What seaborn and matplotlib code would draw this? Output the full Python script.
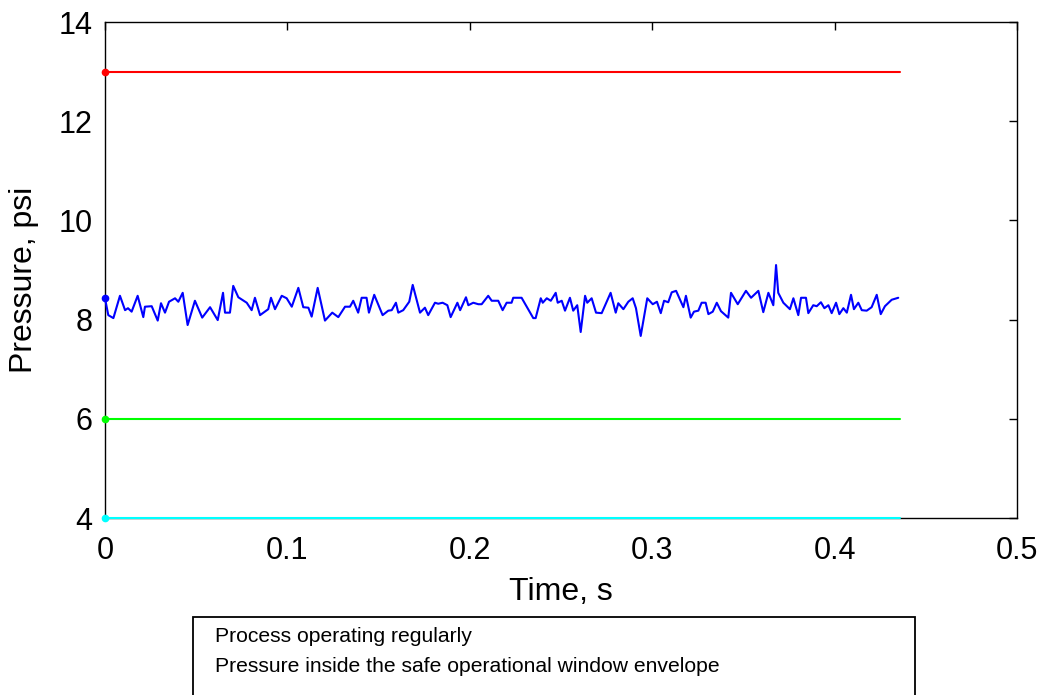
import matplotlib
matplotlib.use("Agg")
import matplotlib.pyplot as plt
import matplotlib.patches as mpatches
import seaborn as sns
import pandas as pd

# ---- data ----
time_s = [0.0000, 0.0018, 0.0046, 0.0082, 0.0110, 0.0126, 0.0146, 0.0179, 0.0210, 0.0219,
          0.0256, 0.0289, 0.0307, 0.0329, 0.0351, 0.0384, 0.0402, 0.0426, 0.0453, 0.0493,
          0.0533, 0.0576, 0.0618, 0.0647, 0.0658, 0.0685, 0.0703, 0.0731, 0.0777, 0.0804,
          0.0822, 0.0850, 0.0895, 0.0910, 0.0932, 0.0969, 0.0996, 0.1024, 0.1060, 0.1087,
          0.1115, 0.1133, 0.1166, 0.1206, 0.1246, 0.1279, 0.1316, 0.1343, 0.1361, 0.1388,
          0.1407, 0.1434, 0.1447, 0.1476, 0.1522, 0.1553, 0.1572, 0.1595, 0.1608, 0.1635,
          0.1668, 0.1687, 0.1727, 0.1754, 0.1772, 0.1809, 0.1827, 0.1851, 0.1877, 0.1895,
          0.1932, 0.1947, 0.1979, 0.1992, 0.2019, 0.2047, 0.2065, 0.2101, 0.2120, 0.2156,
          0.2180, 0.2202, 0.2229, 0.2238, 0.2284, 0.2312, 0.2348, 0.2361, 0.2389, 0.2400,
          0.2422, 0.2444, 0.2471, 0.2482, 0.2504, 0.2522, 0.2549, 0.2567, 0.2589, 0.2608,
          0.2632, 0.2644, 0.2668, 0.2692, 0.2723, 0.2772, 0.2800, 0.2814, 0.2842, 0.2869,
          0.2893, 0.2911, 0.2937, 0.2973, 0.3003, 0.3026, 0.3047, 0.3065, 0.3088, 0.3107,
          0.3131, 0.3171, 0.3185, 0.3211, 0.3229, 0.3253, 0.3271, 0.3293, 0.3308, 0.3332,
          0.3354, 0.3377, 0.3417, 0.3432, 0.3469, 0.3514, 0.3542, 0.3582, 0.3609, 0.3637,
          0.3664, 0.3679, 0.3691, 0.3719, 0.3755, 0.3774, 0.3801, 0.3816, 0.3843, 0.3856,
          0.3883, 0.3902, 0.3925, 0.3944, 0.3966, 0.3984, 0.4008, 0.4026, 0.4048, 0.4067,
          0.4090, 0.4106, 0.4130, 0.4149, 0.4176, 0.4203, 0.4231, 0.4253, 0.4276, 0.4313,
          0.4349]
pressure_psi = [8.43, 8.09, 8.03, 8.48, 8.19, 8.23, 8.16, 8.48, 8.05, 8.26,
                8.27, 7.98, 8.33, 8.14, 8.36, 8.43, 8.36, 8.54, 7.89, 8.38,
                8.04, 8.25, 7.99, 8.54, 8.14, 8.14, 8.68, 8.45, 8.34, 8.19,
                8.44, 8.09, 8.21, 8.44, 8.21, 8.48, 8.43, 8.26, 8.64, 8.25,
                8.24, 8.06, 8.64, 7.98, 8.14, 8.05, 8.26, 8.26, 8.38, 8.14,
                8.44, 8.44, 8.14, 8.50, 8.09, 8.18, 8.19, 8.34, 8.14, 8.19,
                8.36, 8.70, 8.14, 8.24, 8.09, 8.34, 8.32, 8.34, 8.29, 8.05,
                8.34, 8.19, 8.45, 8.29, 8.34, 8.31, 8.31, 8.48, 8.38, 8.38,
                8.19, 8.34, 8.34, 8.44, 8.44, 8.26, 8.03, 8.03, 8.43, 8.34,
                8.43, 8.38, 8.54, 8.34, 8.38, 8.18, 8.44, 8.18, 8.29, 7.75,
                8.48, 8.34, 8.43, 8.14, 8.13, 8.54, 8.14, 8.33, 8.21, 8.36,
                8.43, 8.23, 7.67, 8.43, 8.31, 8.36, 8.13, 8.38, 8.35, 8.55,
                8.58, 8.25, 8.48, 8.04, 8.16, 8.18, 8.34, 8.34, 8.11, 8.16,
                8.34, 8.17, 8.04, 8.54, 8.31, 8.58, 8.44, 8.58, 8.15, 8.54,
                8.29, 9.10, 8.54, 8.34, 8.21, 8.43, 8.09, 8.44, 8.44, 8.13,
                8.29, 8.27, 8.35, 8.23, 8.29, 8.13, 8.34, 8.11, 8.23, 8.14,
                8.50, 8.21, 8.34, 8.19, 8.18, 8.25, 8.50, 8.11, 8.27, 8.40,
                8.44]
limit_time = [0.0, 0.436]
upper_limit = [13.0, 13.0]
lower_limit = [6.0, 6.0]
floor_limit = [4.0, 4.0]

x_ticks = [0, 0.1, 0.2, 0.3, 0.4, 0.5]
x_tick_labels = ["0", "0.1", "0.2", "0.3", "0.4", "0.5"]
y_ticks = [4, 6, 8, 10, 12, 14]
y_tick_labels = ["4", "6", "8", "10", "12", "14"]
status_lines = ["Process operating regularly",
                "Pressure inside the safe operational window envelope"]

# ---- style ----
sns.set_theme(style="white")
plt.rcParams["font.family"] = ["Liberation Sans", "DejaVu Sans"]

fig = plt.figure(figsize=(10.44, 6.95), dpi=100)
ax = fig.add_axes([105 / 1044, 1 - 518 / 695, (1017 - 105) / 1044, (518 - 22) / 695])

series = [
    (limit_time, upper_limit, "#ff0000"),
    (limit_time, lower_limit, "#00ff00"),
    (limit_time, floor_limit, "#00ffff"),
    (time_s, pressure_psi, "#0000ff"),
]
for xs, ys, col in series:
    df = pd.DataFrame({"t": xs, "p": ys})
    sns.lineplot(data=df, x="t", y="p", ax=ax, color=col, linewidth=1.5,
                 estimator=None, sort=False, clip_on=False, zorder=4)
    ax.plot(xs[0], ys[0], "o", color=col, markersize=4.5, clip_on=False, zorder=5)

ax.set_xlim(0, 0.5)
ax.set_ylim(4, 14)
ax.set_xticks(x_ticks)
ax.set_xticklabels(x_tick_labels)
ax.set_yticks(y_ticks)
ax.set_yticklabels(y_tick_labels)
ax.tick_params(direction="in", top=True, right=True, length=6, width=1,
               labelsize=22, colors="black")
ax.tick_params(axis="x", pad=13)
ax.tick_params(axis="y", pad=9)
for sp in ax.spines.values():
    sp.set_visible(True)
    sp.set_color("black")
    sp.set_linewidth(1.0)
ax.set_xlabel("Time, s", fontsize=23, labelpad=8, color="black")
ax.set_ylabel("Pressure, psi", fontsize=23, color="black")
ax.yaxis.set_label_coords(-0.072, 0.48)
ax.grid(False)

# status box below the axes
rect = mpatches.Rectangle((193 / 1044, -0.05), (915 - 193) / 1044, (695 - 617) / 695 + 0.05,
                          transform=fig.transFigure, fill=False, edgecolor="black",
                          linewidth=1.3, clip_on=False)
fig.patches.append(rect)
fig.text(215 / 1044, 1 - 637 / 695, status_lines[0], fontsize=15.2, va="center",
         ha="left", color="black")
fig.text(215 / 1044, 1 - 666 / 695, status_lines[1], fontsize=15.2, va="center",
         ha="left", color="black")

fig.savefig("out.png", dpi=100)
